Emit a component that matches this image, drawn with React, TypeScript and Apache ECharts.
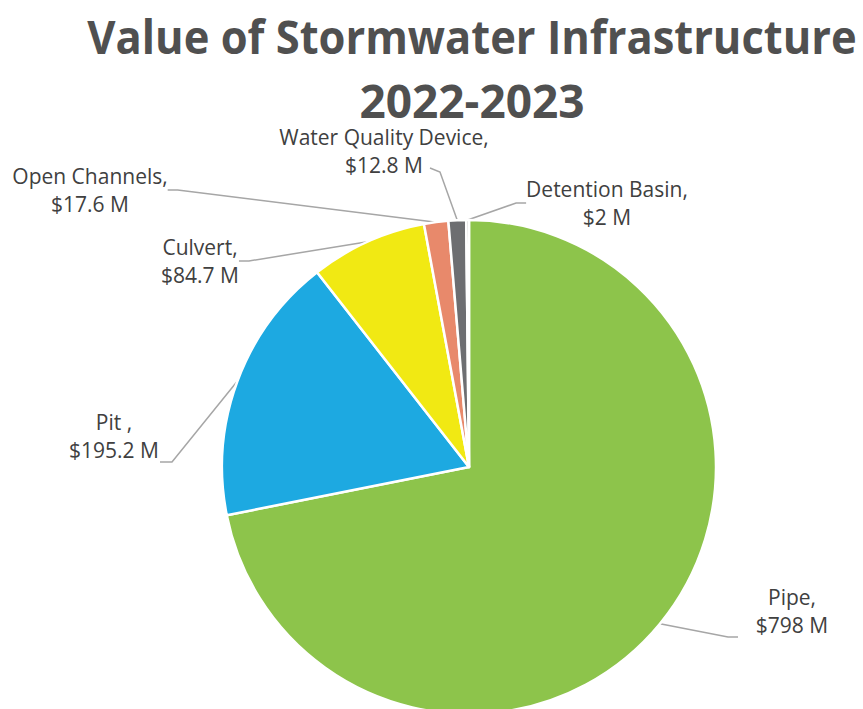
import React, { useEffect, useRef } from "react";
import * as echarts from "echarts";

const titleLines = ["Value of Stormwater Infrastructure", "2022-2023"];
const categories = ["Pipe", "Pit ", "Culvert", "Open Channels", "Water Quality Device", "Detention Basin"];
const values = [798, 195.2, 84.7, 17.6, 12.8, 2];
const valueLabels = ["$798 M", "$195.2 M", "$84.7 M", "$17.6 M", "$12.8 M", "$2 M"];
const colors = ["#8DC44B", "#1DA9E1", "#F1E913", "#E8896B", "#6D6E71", "#A5A5A5"];
// label block centres (layout only)
const labelSpots: [number, number][] = [
  [792, 611],
  [114, 436],
  [200, 261],
  [90, 190],
  [384, 151],
  [607, 203],
];
// leader-line elbow offsets relative to label centre (layout only; null = automatic)
const elbowOffsets: ([number, number][] | null)[] = [
  [[-64, 26], [-54, 26]],
  [[58, 26], [46, 26]],
  null,
  null,
  [[56, 21], [46, 17]],
  null,
];

export default function App() {
  const ref = useRef<HTMLDivElement>(null);
  useEffect(() => {
    document.body.style.margin = "0";
    const chart = echarts.init(ref.current!, null, { renderer: "svg" });
    const titleStyle = {
      fontFamily: "Open Sans",
      fontWeight: "bold",
      fontSize: 46,
      fill: "#505050",
      textAlign: "center",
      textVerticalAlign: "middle",
    };
    chart.setOption({
      animation: false,
      backgroundColor: "#ffffff",
      graphic: [
        { type: "text", x: 472, y: 36, scaleX: 0.945, style: { ...titleStyle, text: titleLines[0] } },
        { type: "text", x: 472, y: 100, style: { ...titleStyle, text: titleLines[1] } },
      ],
      series: [
        {
          type: "pie",
          center: [469, 467],
          radius: 247,
          startAngle: 90,
          clockwise: true,
          itemStyle: { borderColor: "#ffffff", borderWidth: 2.5 },
          label: {
            show: true,
            position: "outside",
            fontFamily: "Open Sans",
            fontSize: 21,
            lineHeight: 28,
            color: "#404040",
            formatter: (p: any) => `${p.name},\n${valueLabels[p.dataIndex]}`,
          },
          labelLine: {
            show: true,
            length: 20,
            length2: 10,
            lineStyle: { color: "#A6A6A6", width: 1.5 },
          },
          labelLayout: (params: any) => {
            const i = params.dataIndex;
            const s = labelSpots[i];
            const out: any = { x: s[0], y: s[1], align: "center", verticalAlign: "middle" };
            const el = elbowOffsets[i];
            if (el && params.labelLinePoints && params.labelLinePoints[0]) {
              const a = params.labelLinePoints[0];
              out.labelLinePoints = [
                [a[0], a[1]],
                [s[0] + el[0][0], s[1] + el[0][1]],
                [s[0] + el[1][0], s[1] + el[1][1]],
              ];
            }
            return out;
          },
          data: categories.map((c, i) => ({
            name: c,
            value: values[i],
            itemStyle: { color: colors[i] },
          })),
        },
      ],
    });
    return () => chart.dispose();
  }, []);
  return <div ref={ref} style={{ width: 863, height: 709 }} />;
}
